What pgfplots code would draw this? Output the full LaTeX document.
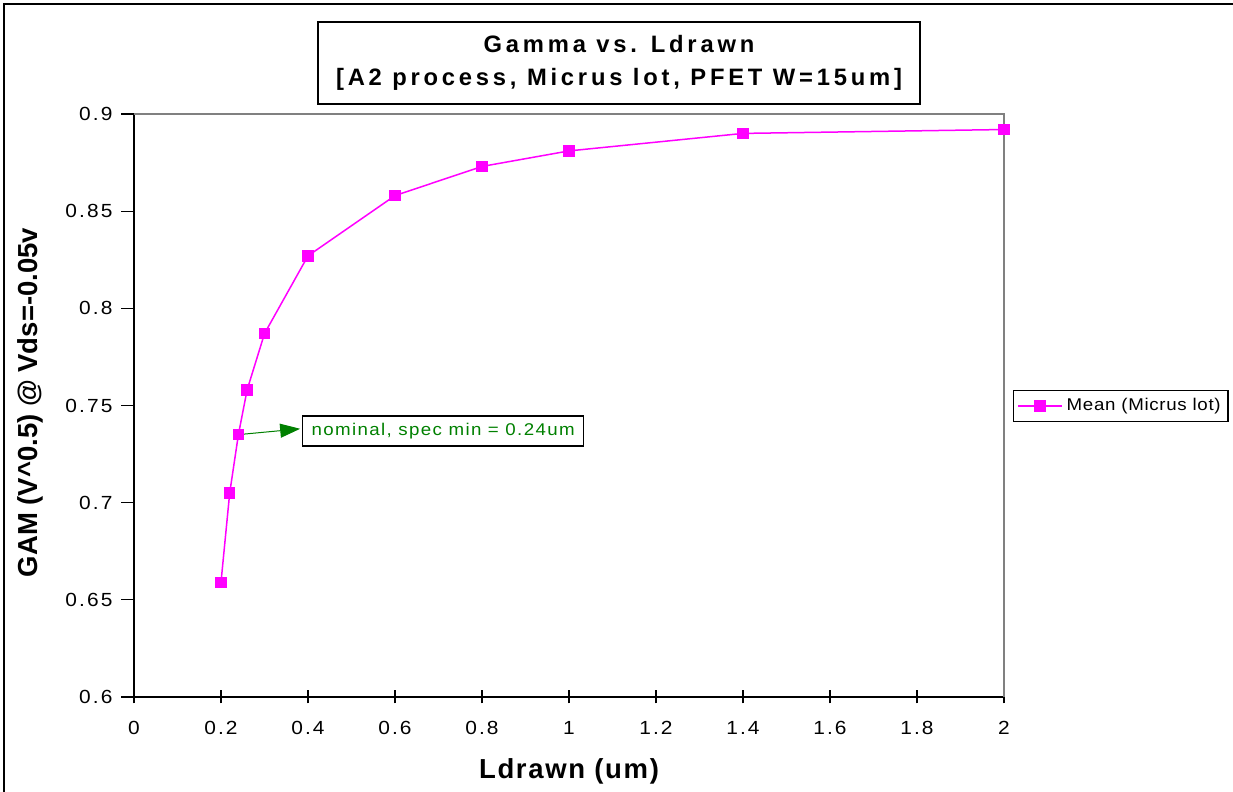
\documentclass[border=0pt]{standalone}
\usepackage{fontspec}
\setmainfont{Liberation Sans}
\usepackage{pgfplots}
\pgfplotsset{compat=1.18}
\usetikzlibrary{arrows.meta}

\newfontfamily\tickfont[FakeStretch=1.1,LetterSpace=11]{Liberation Sans}
\newfontfamily\titlefont[LetterSpace=16]{Liberation Sans}
\newfontfamily\xlabfont[LetterSpace=6]{Liberation Sans}
\newfontfamily\notefont[FakeStretch=1.1,LetterSpace=8]{Liberation Sans}
\newfontfamily\legfont[FakeStretch=1.1,LetterSpace=4]{Liberation Sans}

\definecolor{mag}{RGB}{255,0,255}
\definecolor{notegreen}{RGB}{0,128,0}
\definecolor{framegray}{RGB}{128,128,128}

\begin{document}
\begin{tikzpicture}[x=0.4pt,y=0.4pt]
\useasboundingbox (0,0) rectangle (1233,792);
% chart frame, open to the right and bottom
\draw[line width=0.7pt] (4,-10) -- (4,788) -- (1245,788);

% title box
\node[draw=black, line width=0.6pt, minimum width=240.8pt, minimum height=32.8pt,
      align=center, inner sep=0pt,
      font=\titlefont\bfseries\fontsize{9.5}{13.2}\selectfont]
  at (619,729) {Gamma vs. Ldrawn\\\relax [A2 process, Micrus lot, PFET W=15um]};

\begin{axis}[
  at={(53.6pt,38pt)}, anchor=south west,
  scale only axis, width=348pt, height=233.2pt,
  xmin=0, xmax=2, ymin=0.6, ymax=0.9,
  clip=false,
  axis x line*=bottom, axis y line*=left,
  axis line style={black, line width=0.6pt, -},
  xtick={0,0.2,0.4,0.6,0.8,1,1.2,1.4,1.6,1.8,2},
  ytick={0.6,0.65,0.7,0.75,0.8,0.85,0.9},
  tick align=center, major tick length=5.2pt,
  tick style={black, line width=0.5pt},
  ytick style={xshift=-2.6pt},
  /pgf/number format/assume math mode=true,
  ticklabel style={font=\tickfont\fontsize{7.6}{9}\selectfont},
  xticklabel style={yshift=-3.5pt},
  yticklabel style={xshift=-2.5pt},
  xlabel={Ldrawn (um)},
  xlabel style={at={(axis description cs:0.5,-0.127)}, anchor=center,
                font=\xlabfont\bfseries\fontsize{11}{12}\selectfont},
  ylabel={GAM (V\^{}0.5) @ Vds=-0.05v},
  ylabel style={at={(axis description cs:-0.1195,0.505)}, anchor=center,
                font=\bfseries\fontsize{11}{12}\selectfont},
  legend style={at={(axis description cs:1.0103,0.499)}, anchor=west,
                draw=black, line width=0.6pt, inner xsep=1.5pt, inner ysep=1.5pt,
                font=\legfont\fontsize{6.8}{8}\selectfont,
                nodes={inner sep=1.5pt}},
  legend image code/.code={%
    \draw[#1, mark repeat=2, mark phase=2]
      plot coordinates {(0pt,0pt) (8.8pt,0pt) (17.6pt,0pt)};},
]
\addplot[color=mag, line width=0.6pt, mark=square*, mark size=2pt,
         mark options={fill=mag, draw=mag, solid}]
  coordinates {
    (0.20,0.659) (0.22,0.705) (0.24,0.735) (0.26,0.758) (0.30,0.787)
    (0.40,0.827) (0.60,0.858) (0.80,0.873) (1.00,0.881) (1.40,0.890)
    (2.00,0.892)
  };
\addlegendentry{Mean (Micrus lot)}

% plot-area border on the top and right
\draw[framegray, line width=0.5pt]
  (rel axis cs:0,1) -- (rel axis cs:1,1) -- (rel axis cs:1,0);

% note on the nominal length
\draw[notegreen, line width=0.4pt, -{Triangle[length=8pt,width=5.6pt]}]
  (axis cs:0.24,0.735) -- (axis cs:0.382,0.738);
\node[draw=black, line width=0.6pt, anchor=west, minimum width=112.4pt,
      minimum height=12pt, inner sep=1pt, text=notegreen,
      font=\notefont\fontsize{6.8}{8}\selectfont]
  at (axis cs:0.386,0.7369) {nominal, spec min = 0.24um};
\end{axis}
\end{tikzpicture}
\end{document}
